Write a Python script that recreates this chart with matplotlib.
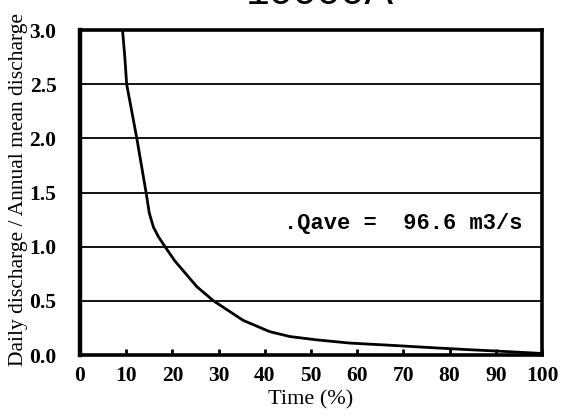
import matplotlib
matplotlib.use("Agg")
import matplotlib.pyplot as plt

# Flow duration curve data
time_pct = [9.2, 9.7, 10.1, 12.3, 14.3, 15.0, 15.9, 17.0, 18.4, 20.5, 22.7,
            25.3, 28.9, 35.3, 41.1, 45.5, 51.2, 58.4, 67.1, 76.4, 83.7,
            90.9, 99.6, 100.0]
ratio = [3.0, 2.75, 2.5, 2.0, 1.5, 1.31, 1.18, 1.09, 1.0, 0.87, 0.76,
         0.63, 0.5, 0.32, 0.215, 0.17, 0.14, 0.11, 0.09, 0.067, 0.05,
         0.035, 0.015, 0.01]

x_ticks = [0, 10, 20, 30, 40, 50, 60, 70, 80, 90, 100]
y_ticks = [0.0, 0.5, 1.0, 1.5, 2.0, 2.5, 3.0]
y_tick_labels = ["0.0", "0.5", "1.0", "1.5", "2.0", "2.5", "3.0"]
annotation = ".Qave =  96.6 m3/s"
title = "10000A"

W, H = 570, 419
fig = plt.figure(figsize=(W / 100, H / 100), dpi=100)
ax = fig.add_axes([80 / W, 1 - 355 / H, (542 - 80) / W, (355 - 30) / H])

ax.plot(time_pct, ratio, color="black", lw=2.0, solid_joinstyle="round",
        clip_on=True)

for y in y_ticks[1:-1]:
    ax.axhline(y, color="black", lw=1.3)

ax.set_xlim(0, 100)
ax.set_ylim(0, 3.0)
ax.set_xticks(x_ticks)
ax.set_xticklabels([str(v) for v in x_ticks])
ax.set_yticks(y_ticks)
ax.set_yticklabels(y_tick_labels)

serif = ["Liberation Serif", "DejaVu Serif"]
ax.tick_params(axis="x", direction="in", length=4, width=2, pad=8,
               labelsize=15.5)
ax.tick_params(axis="y", length=0, pad=17, labelsize=15.5)
for lab in ax.get_xticklabels() + ax.get_yticklabels():
    lab.set_fontfamily(serif)
    lab.set_fontweight("bold")

for side, sp in ax.spines.items():
    sp.set_linewidth(2.6)
    sp.set_color("black")
ax.spines["left"].set_linewidth(3.2)

ax.set_xlabel("Time (%)", fontsize=16, family=serif, labelpad=3)
fig.text(19 / W, 1 - 189 / H, "Daily discharge / Annual mean discharge",
         rotation=90, ha="center", va="center", fontsize=15.5, family=serif)

ax.text(0.442, 0.405, annotation, transform=ax.transAxes,
        family=["Liberation Mono", "DejaVu Sans Mono"], fontweight="bold",
        fontsize=15.8, ha="left", va="center")

fig.text(320 / W, 1 - 4 / H, title, ha="center", va="baseline",
         fontsize=31, family=["Liberation Sans", "DejaVu Sans"])

fig.savefig("out.png", dpi=100)
